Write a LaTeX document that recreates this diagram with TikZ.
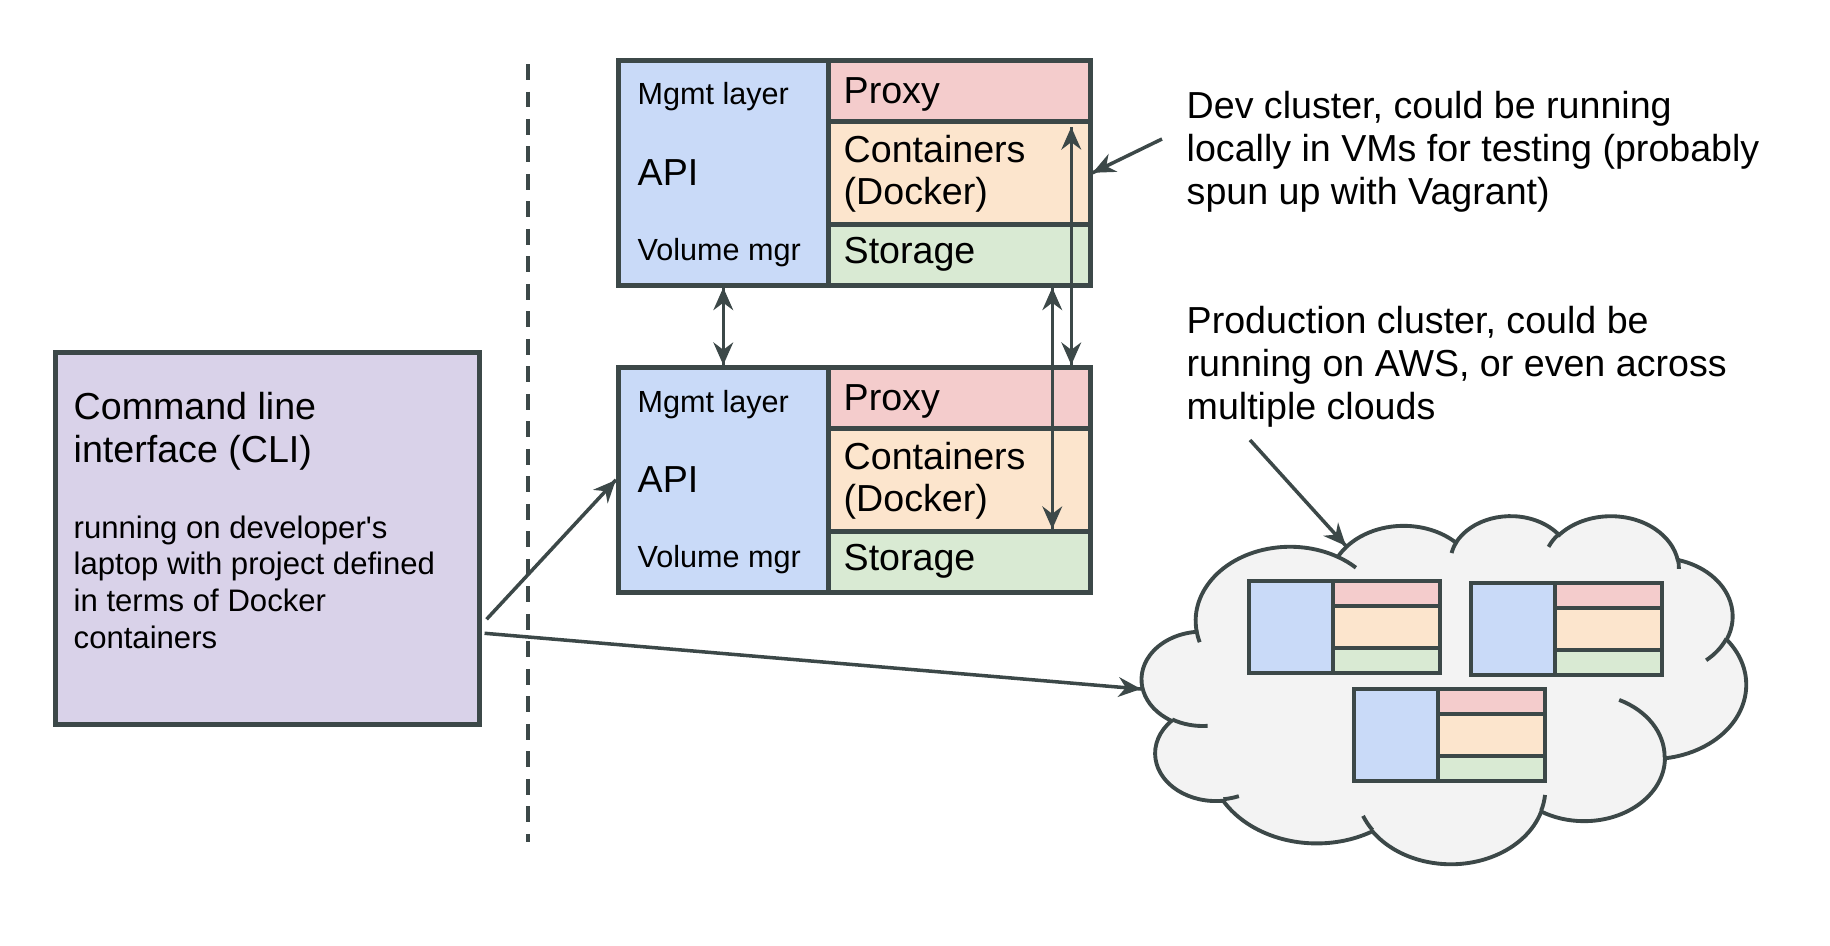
\documentclass[tikz,border=0pt]{standalone}
\usepackage{fontspec}
\setmainfont{Liberation Sans}
\usetikzlibrary{arrows.meta,
                decorations.markings}
\definecolor{linec}{RGB}{60,72,72}
\definecolor{apic}{HTML}{C9DAF8}
\definecolor{proxyc}{HTML}{F4CCCC}
\definecolor{contc}{HTML}{FCE5CD}
\definecolor{storec}{HTML}{D9EAD3}
\definecolor{clic}{HTML}{D9D2E9}
\definecolor{cloudc}{HTML}{F3F3F3}
\newcommand{\bigfont}{\fontsize{10.7pt}{12.2pt}\selectfont}
\newcommand{\smallfont}{\fontsize{8.7pt}{10.45pt}\selectfont}
\tikzset{->/.style = {decoration={markings, mark=at position 1 with {\arrow{Stealth[length=6.4pt,width=5.6pt]}}}, postaction={decorate}}}
\tikzset{<->/.style = {decoration={markings, mark=at position 0 with {\arrowreversed{Stealth[length=6.4pt,width=5.6pt]}}, mark=at position 1 with {\arrow{Stealth[length=6.4pt,width=5.6pt]}}}, postaction={decorate}}}
\tikzset{layer/.style = {draw=linec, line width=1.3pt, anchor=north west, inner sep=0pt},
         lbl/.style = {anchor=base west, inner sep=0pt, font=\smallfont},
         note/.style = {anchor=north west, inner sep=0pt, align=left, font=\bigfont},
         conn/.style = {draw=linec, line width=1pt},
         mini/.style = {draw=linec, line width=1.1pt}}

\begin{document}
\begin{tikzpicture}[x=0.1mm, y=-0.1mm]
    \useasboundingbox (0,0) rectangle (1830,946);
    \draw [linec, line width=1.1pt, dash pattern=on 1.6mm off 1.15mm] (528,64) -- (528,842);

    % dev cluster
    \node [layer, fill=apic, minimum width=21mm, minimum height=22.5mm] (api1) at (616,58) {};
    \node [layer, fill=proxyc, minimum width=26.2mm, minimum height=6.1mm] (prox1) at (826,58) {};
    \node [layer, fill=contc, minimum width=26.2mm, minimum height=10.3mm] (cont1) at (826,119) {};
    \node [layer, fill=storec, minimum width=26.2mm, minimum height=6.1mm] (store1) at (826,222) {};
    \node [lbl] (mgmt1) at (637,105) {Mgmt layer};
    \node [lbl, font=\bigfont] (apitxt1) at (637,185) {API};
    \node [lbl] (vol1) at (637,260) {Volume mgr};
    \node [lbl, font=\bigfont] (proxtxt1) at (843,103) {Proxy};
    \node [note, font=\fontsize{10.7pt}{11.7pt}\selectfont] (conttxt1) at (843,135) {Containers\\(Docker)};
    \node [lbl, font=\bigfont] (storetxt1) at (843,263) {Storage};

    % second cluster
    \node [layer, fill=apic, minimum width=21mm, minimum height=22.5mm] (api2) at (616,365) {};
    \node [layer, fill=proxyc, minimum width=26.2mm, minimum height=6.1mm] (prox2) at (826,365) {};
    \node [layer, fill=contc, minimum width=26.2mm, minimum height=10.3mm] (cont2) at (826,426) {};
    \node [layer, fill=storec, minimum width=26.2mm, minimum height=6.1mm] (store2) at (826,529) {};
    \node [lbl] (mgmt2) at (637,412) {Mgmt layer};
    \node [lbl, font=\bigfont] (apitxt2) at (637,492) {API};
    \node [lbl] (vol2) at (637,567) {Volume mgr};
    \node [lbl, font=\bigfont] (proxtxt2) at (843,410) {Proxy};
    \node [note, font=\fontsize{10.7pt}{11.7pt}\selectfont] (conttxt2) at (843,442) {Containers\\(Docker)};
    \node [lbl, font=\bigfont] (storetxt2) at (843,570) {Storage};

    \draw [conn, <->] (api1.south) -- (api2.north);
    \draw [conn, <->] ([xshift=9.3mm]store1.south) -- ([xshift=9.3mm]store2.north);
    \draw [conn, <->] ([xshift=11.2mm, yshift=-0.8mm]cont1.north) -- ([xshift=11.2mm]prox2.north);

    % CLI
    \node [layer, fill=clic, minimum width=42.4mm, minimum height=37.2mm] (cli) at (53,350) {};
    \node [note] (clititle) at (73,392) {Command line\\interface (CLI)};
    \node [note, font=\fontsize{8.85pt}{10.45pt}\selectfont] (clibody) at (73,515) {running on developer\textquotesingle s\\laptop with project defined\\in terms of Docker\\containers};

    % notes
    \node [note] (devnote) at (1186,91) {Dev cluster, could be running\\locally in VMs for testing (probably\\spun up with Vagrant)};
    \node [note] (prodnote) at (1186,306) {Production cluster, could be\\running on AWS, or even across\\multiple clouds};

    % cloud
    \begin{scope}[shift={(1142,515)}, x=0.604mm, y=-0.348mm]
        \filldraw [fill=cloudc, draw=linec, line width=1.1pt] (9.028,33.264)
            \foreach \w/\h/\s/\e in {6753/9190/-190.4875/-66.7070, 5333/7267/-144.1024/-54.1572,
                                     4365/5945/-145.8079/-46.0849, 4857/6595/-130.9861/-13.7444,
                                     5333/7273/-78.7089/30.3180, 6775/9220/-46.2673/84.0017,
                                     5785/7867/0.6250/114.6584, 6752/9215/22.4516/137.6242,
                                     7720/10543/66.2426/141.9537, 4360/5918/-274.9421/-128.2065,
                                     4345/5945/-246.8285/-94.3097} {
                arc [start angle={atan2(\w*sin(\s),\h*cos(\s))},
                     delta angle={mod(atan2(\w*sin(\e),\h*cos(\e))-atan2(\w*sin(\s),\h*cos(\s))+720,360)},
                     x radius=\w/432, y radius=\h/432]
            } -- cycle;
        \foreach \x/\y/\w/\h/\s/\e in {10.863/60.595/4345/5945/86.742/113.172,
                                       16.037/80.785/4360/5918/73.611/85.058,
                                       38.144/90.486/6752/9215/137.624/151.705,
                                       66.729/80.442/6752/9215/6.453/22.452,
                                       79.002/53.134/5785/7867/-70.292/0.625,
                                       96.755/35.542/5333/7273/30.318/58.070,
                                       88.713/12.560/4857/6595/-13.744/1.115,
                                       67.310/9.148/4857/6595/-149.182/-130.986,
                                       51.252/10.926/4365/5945/-163.494/-145.808,
                                       32.407/12.019/6753/9190/-66.707/-54.388,
                                       9.553/36.549/6753/9190/157.654/169.512} {
            \pgfmathsetmacro\ta{atan2(\w*sin(\s),\h*cos(\s))}
            \pgfmathsetmacro\td{mod(atan2(\w*sin(\e),\h*cos(\e))-\ta+720,360)}
            \draw [linec, line width=1.1pt] (\x,\y) arc [start angle=\ta, delta angle=\td, x radius=\w/432, y radius=\h/432];
        }
    \end{scope}
    \foreach \bx/\by in {1249/581, 1471/583, 1354/689} {
        \draw [mini, fill=apic] (\bx,\by) rectangle ++(84,92);
        \draw [mini, fill=proxyc] (\bx+84,\by) rectangle ++(107,25);
        \draw [mini, fill=contc] (\bx+84,\by+25) rectangle ++(107,42);
        \draw [mini, fill=storec] (\bx+84,\by+67) rectangle ++(107,25);
    }

    \coordinate (devfrom) at (1162,139);
    \coordinate (prodfrom) at (1250,440);
    \coordinate (cloudtop) at (1346,546);
    \coordinate (cloudleft) at (1141,689);
    \draw [conn, ->] (devfrom) -- (cont1.east);
    \draw [conn, ->] (prodfrom) -- (cloudtop);
    \draw [conn, ->] ([shift={(5,81)}]cli.east) -- (api2.west);
    \draw [conn, ->] ([shift={(3,95)}]cli.east) -- (cloudleft);
\end{tikzpicture}
\end{document}
